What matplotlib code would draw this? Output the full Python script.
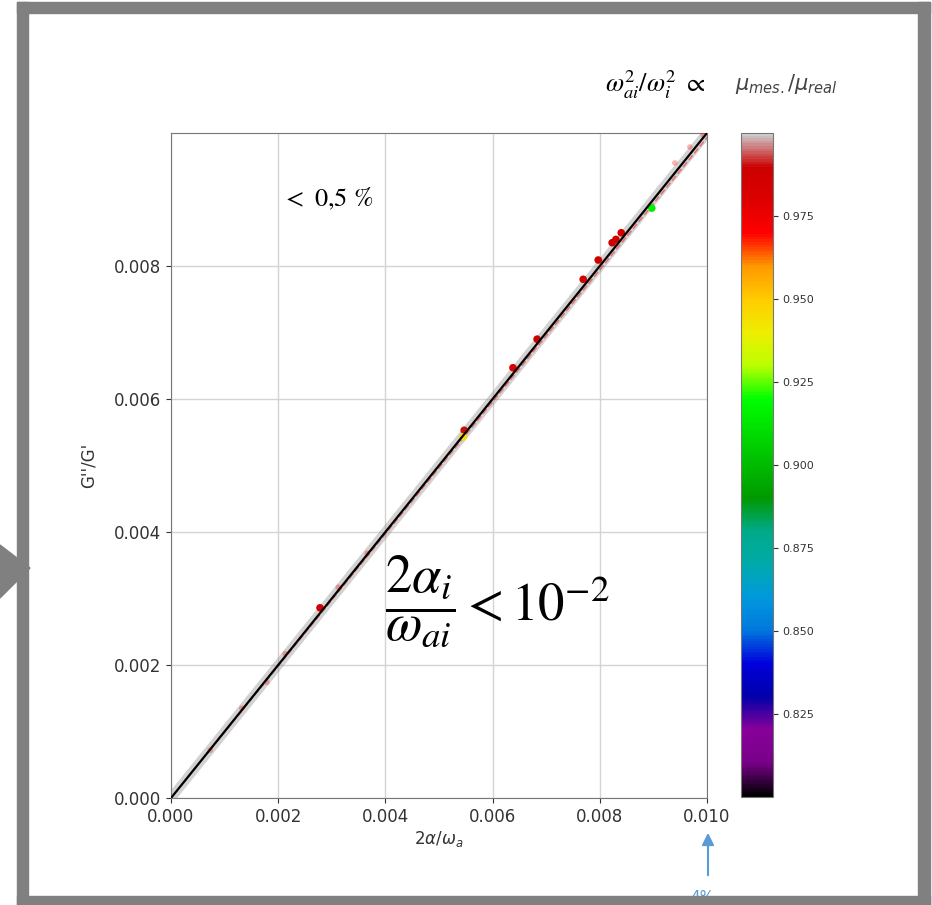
import numpy as np
import matplotlib
matplotlib.use("Agg")
import matplotlib.pyplot as plt
from matplotlib.patches import Rectangle, Polygon

# =========================================================
# Data
# =========================================================
# main markers: 2alpha/omega_a, G''/G', colour value mu_mes/mu_real
pts_x = [0.00278, 0.00547, 0.00545, 0.00683, 0.00769, 0.00797,
         0.00823, 0.00830, 0.00840, 0.00897, 0.00638]
pts_y = [0.00286, 0.00553, 0.00543, 0.00690, 0.00780, 0.00809,
         0.00835, 0.00840, 0.00850, 0.00887, 0.00647]
pts_c = [0.985, 0.990, 0.945, 0.988, 0.985, 0.988,
         0.988, 0.985, 0.985, 0.915, 0.980]

# faint small markers along the diagonal
faint_x = [0.00073, 0.00132, 0.00179, 0.00213, 0.00312, 0.00366,
           0.00638, 0.00800, 0.00940, 0.00968, 0.00993]
faint_y = [0.00072, 0.00135, 0.00174, 0.00217, 0.00317, 0.00368,
           0.00647, 0.00809, 0.00955, 0.00979, 0.00997]

# reference lines
line_x = [0.0, 0.0100]
line_y = [0.0, 0.0100]
ratio_dashed = 0.993

xticks = [0.000, 0.002, 0.004, 0.006, 0.008, 0.010]
yticks = [0.000, 0.002, 0.004, 0.006, 0.008]
cticks = [0.825, 0.850, 0.875, 0.900, 0.925, 0.950, 0.975]
c_min, c_max = 0.80, 1.00

# =========================================================
# Figure
# =========================================================
W, H = 932, 905
fig = plt.figure(figsize=(W / 100, H / 100), dpi=100)
plt.rcParams["mathtext.fontset"] = "dejavusans"

ax = fig.add_axes([171 / W, 1 - 798 / H, (707 - 171) / W, (798 - 133) / H])
cax = fig.add_axes([741 / W, 1 - 797 / H, 32 / W, (797 - 133) / H])

ax.grid(True, color="#d4d4d4", lw=1.0, zorder=0)
ax.plot(line_x, line_y, color="gray", lw=7, alpha=0.35,
        solid_capstyle="butt", zorder=2)
ax.plot(np.array(line_x), ratio_dashed * np.array(line_y), color="red",
        lw=1.2, ls="--", alpha=0.45, zorder=2)
ax.scatter(faint_x, faint_y, s=16, color="red", alpha=0.3,
           edgecolors="none", zorder=3)
sc = ax.scatter(pts_x, pts_y, c=pts_c, cmap="nipy_spectral",
                vmin=c_min, vmax=c_max, s=30, edgecolors="none", zorder=4)
ax.plot(line_x, line_y, color="black", lw=1.6, zorder=5)

ax.set_xlim(0, 0.0100)
ax.set_ylim(0, 0.0100)
ax.set_xticks(xticks)
ax.set_yticks(yticks)
ax.set_xticklabels([f"{v:.3f}" for v in xticks])
ax.set_yticklabels([f"{v:.3f}" for v in yticks])
ax.tick_params(labelsize=12, colors="#333333")
for s in ax.spines.values():
    s.set_color("#777777")
ax.set_xlabel(r"$2\alpha/\omega_a$", fontsize=12, color="#333333", labelpad=2)
ax.set_ylabel("G''/G'", fontsize=12, color="#333333", labelpad=12)

cb = fig.colorbar(sc, cax=cax, ticks=cticks, format="%.3f")
cb.ax.tick_params(labelsize=8, colors="#333333")
cb.outline.set_edgecolor("#777777")

# annotations in Times-like math
ax.text(0.00293, 0.00900, r"$<\ 0{,}5\ \%$", fontsize=19,
        math_fontfamily="stix", ha="center", va="center")
ax.text(0.00399, 0.00296, r"$\dfrac{2\alpha_i}{\omega_{ai}}<10^{-2}$",
        fontsize=38, math_fontfamily="stix", ha="left", va="center")

# =========================================================
# Slide decorations (pixel coordinates)
# =========================================================
ov = fig.add_axes([0, 0, 1, 1], zorder=10)
ov.set_xlim(0, W)
ov.set_ylim(H, 0)
ov.axis("off")
ov.patch.set_alpha(0)

ov.text(655, 85, r"$\omega_{ai}^2/\omega_i^2\ \propto$", fontsize=19,
        math_fontfamily="stix", ha="center", va="center")
ov.text(786, 84, r"$\mu_{mes.}/\mu_{real}$", fontsize=15, color="#444444",
        ha="center", va="center")

ov.annotate("", xy=(708, 830), xytext=(708, 878),
            arrowprops=dict(arrowstyle="-|>", color="#5b9bd5", lw=1.5,
                            mutation_scale=18))
ov.text(702, 897, "4%", fontsize=11, color="#5b9bd5", ha="center",
        va="center", zorder=1)

gray = "#808080"
ov.add_patch(Rectangle((17, 2), 913, 11, color=gray, zorder=5))
ov.add_patch(Rectangle((17, 896), 913, 9, color=gray, zorder=5))
ov.add_patch(Rectangle((17, 2), 11, 903, color=gray, zorder=5))
ov.add_patch(Rectangle((918, 2), 12, 903, color=gray, zorder=5))
ov.add_patch(Polygon([(0, 545), (30, 568), (0, 598)], closed=True,
                     color=gray, zorder=5))

fig.savefig("out.png", dpi=100)
